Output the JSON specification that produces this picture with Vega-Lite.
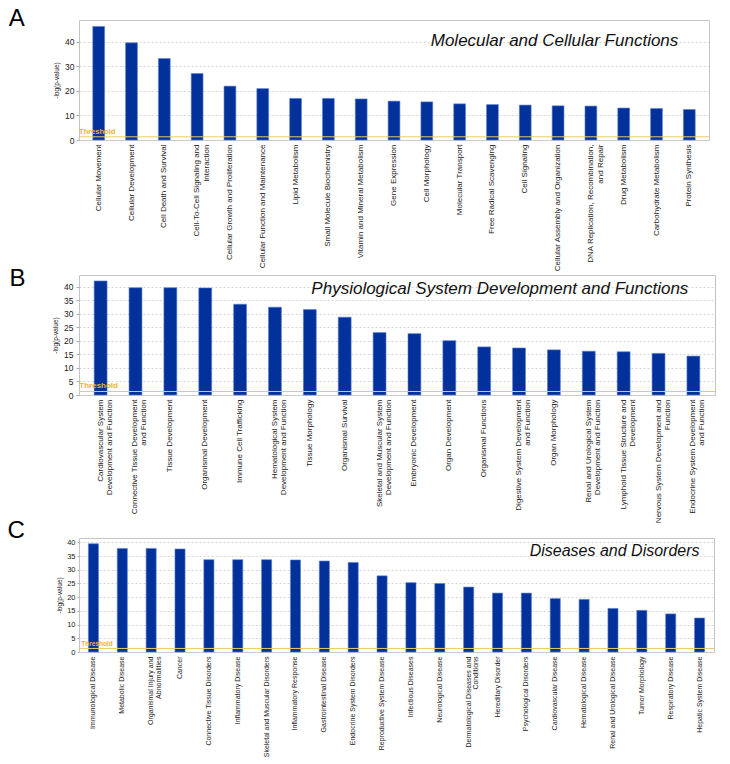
{
  "$schema": "https://vega.github.io/schema/vega-lite/v6.json",
  "padding": {"left": 7, "top": 6, "right": 0, "bottom": 0},
  "columns": 1,
  "align": "none",
  "spacing": -6,
  "config": {
    "font": "Liberation Sans",
    "view": {"stroke": "#c4c4c4", "strokeWidth": 1},
    "axis": {
      "labelFont": "Liberation Sans",
      "titleFont": "Liberation Sans",
      "labelColor": "#222222",
      "titleColor": "#222222",
      "titleFontWeight": "normal",
      "domain": false,
      "tickColor": "#aaaaaa",
      "gridColor": "#d4d4d4",
      "gridDash": [2, 2],
      "labelOverlap": false
    },
    "axisX": {"grid": false, "ticks": false, "labelAngle": -90, "title": null},
    "text": {"font": "Liberation Sans", "fontWeight": "normal"},
    "title": {"font": "Liberation Sans", "fontWeight": "normal", "color": "#000000", "fontSize": 24, "orient": "left", "anchor": "end", "frame": "group", "angle": 0, "align": "right", "baseline": "top"}
  },
  "concat": [
    {
      "width": 630,
      "height": 120,
      "title": {"text": "A", "offset": 12.7, "dy": -13},
      "layer": [
        {
          "data": {"values": [
            {"cat": "Cellular Movement", "val": 46.2},
            {"cat": "Cellular Development", "val": 39.5},
            {"cat": "Cell Death and Survival", "val": 33.1},
            {"cat": "Cell-To-Cell Signaling and|Interaction", "val": 27.0},
            {"cat": "Cellular Growth and Proliferation", "val": 21.9},
            {"cat": "Cellular Function and Maintenance", "val": 20.9},
            {"cat": "Lipid Metabolism", "val": 16.9},
            {"cat": "Small Molecule Biochemistry", "val": 16.9},
            {"cat": "Vitamin and Mineral Metabolism", "val": 16.7},
            {"cat": "Gene Expression", "val": 15.8},
            {"cat": "Cell Morphology", "val": 15.5},
            {"cat": "Molecular Transport", "val": 14.7},
            {"cat": "Free Radical Scavenging", "val": 14.4},
            {"cat": "Cell Signaling", "val": 14.2},
            {"cat": "Cellular Assembly and Organization", "val": 13.9},
            {"cat": "DNA Replication, Recombination,|and Repair", "val": 13.8},
            {"cat": "Drug Metabolism", "val": 13.0},
            {"cat": "Carbohydrate Metabolism", "val": 12.8},
            {"cat": "Protein Synthesis", "val": 12.4}
          ]},
          "mark": {"type": "bar", "color": "#02319c", "stroke": "#5b7fcc", "strokeWidth": 0.6, "width": {"band": 0.36}},
          "encoding": {
            "x": {"field": "cat", "type": "nominal", "sort": null,
                  "scale": {"paddingInner": 0, "paddingOuter": 0.1},
                  "axis": {"labelFontSize": 8, "labelLineHeight": 10, "labelPadding": 4, "labelExpr": "split(datum.label, '|')", "labelLimit": 200}},
            "y": {"field": "val", "type": "quantitative",
                  "scale": {"domain": [0, 48.8], "nice": false},
                  "axis": {"title": "-log(p-value)", "titleFontSize": 6.5, "titlePadding": 5, "values": [0, 10, 20, 30, 40], "labelFontSize": 8.5, "tickSize": 3, "labelPadding": 2, "grid": true}}
          }
        },
        {
          "data": {"values": [{"t": 1.3}]},
          "mark": {"type": "rule", "color": "#e6cc6a", "strokeWidth": 1},
          "encoding": {"y": {"field": "t", "type": "quantitative",
                  "axis": {"title": "-log(p-value)", "titleFontSize": 6.5, "titlePadding": 5, "values": [0, 10, 20, 30, 40], "labelFontSize": 8.5, "tickSize": 3, "labelPadding": 2, "grid": true}}}
        },
        {
          "data": {"values": [{"label": "Threshold", "t": 1.3}]},
          "mark": {"type": "text", "color": "#f0b030", "fontWeight": "bold", "fontSize": 7.5, "align": "center", "baseline": "bottom", "dx": -1.5, "dy": -1},
          "encoding": {"text": {"field": "label"}, "x": {"datum": "Cellular Movement"}, "y": {"field": "t", "type": "quantitative",
                  "axis": {"title": "-log(p-value)", "titleFontSize": 6.5, "titlePadding": 5, "values": [0, 10, 20, 30, 40], "labelFontSize": 8.5, "tickSize": 3, "labelPadding": 2, "grid": true}}}
        },
        {
          "data": {"values": [{"label": "Molecular and Cellular Functions", "t": 38.2}]},
          "mark": {"type": "text", "fontStyle": "italic", "fontSize": 17, "align": "right", "baseline": "alphabetic", "dx": -11, "color": "#111111"},
          "encoding": {"text": {"field": "label"}, "x": {"datum": "Protein Synthesis"}, "y": {"field": "t", "type": "quantitative",
                  "axis": {"title": "-log(p-value)", "titleFontSize": 6.5, "titlePadding": 5, "values": [0, 10, 20, 30, 40], "labelFontSize": 8.5, "tickSize": 3, "labelPadding": 2, "grid": true}}}
        }
      ]
    },
    {
      "width": 636,
      "height": 120,
      "title": {"text": "B", "offset": 11, "dy": -8},
      "layer": [
        {
          "data": {"values": [
            {"cat": "Cardiovascular System|Development and Function", "val": 42.2},
            {"cat": "Connective Tissue Development|and Function", "val": 39.7},
            {"cat": "Tissue Development", "val": 39.7},
            {"cat": "Organismal Development", "val": 39.6},
            {"cat": "Immune Cell Trafficking", "val": 33.6},
            {"cat": "Hematological System|Development and Function", "val": 32.5},
            {"cat": "Tissue Morphology", "val": 31.6},
            {"cat": "Organismal Survival", "val": 28.8},
            {"cat": "Skeletal and Muscular System|Development and Function", "val": 23.1},
            {"cat": "Embryonic Development", "val": 22.7},
            {"cat": "Organ Development", "val": 20.1},
            {"cat": "Organismal Functions", "val": 17.8},
            {"cat": "Digestive System Development|and Function", "val": 17.4},
            {"cat": "Organ Morphology", "val": 16.7},
            {"cat": "Renal and Urological System|Development and Function", "val": 16.2},
            {"cat": "Lymphoid Tissue Structure and|Development", "val": 16.0},
            {"cat": "Nervous System Development and|Function", "val": 15.4},
            {"cat": "Endocrine System Development|and Function", "val": 14.4}
          ]},
          "mark": {"type": "bar", "color": "#02319c", "stroke": "#5b7fcc", "strokeWidth": 0.6, "width": {"band": 0.37}},
          "encoding": {
            "x": {"field": "cat", "type": "nominal", "sort": null,
                  "scale": {"paddingInner": 0, "paddingOuter": 0.12},
                  "axis": {"labelFontSize": 8, "labelLineHeight": 9, "labelPadding": 4, "labelExpr": "split(datum.label, '|')", "labelLimit": 200}},
            "y": {"field": "val", "type": "quantitative",
                  "scale": {"domain": [0, 44.4], "nice": false},
                  "axis": {"title": "-log(p-value)", "titleFontSize": 6.5, "titlePadding": 5, "values": [0, 5, 10, 15, 20, 25, 30, 35, 40], "labelFontSize": 8.5, "tickSize": 3, "labelPadding": 3, "grid": true}}
          }
        },
        {
          "data": {"values": [{"t": 1.3}]},
          "mark": {"type": "rule", "color": "#e6cc6a", "strokeWidth": 1},
          "encoding": {"y": {"field": "t", "type": "quantitative",
                  "axis": {"title": "-log(p-value)", "titleFontSize": 6.5, "titlePadding": 5, "values": [0, 5, 10, 15, 20, 25, 30, 35, 40], "labelFontSize": 8.5, "tickSize": 3, "labelPadding": 3, "grid": true}}}
        },
        {
          "data": {"values": [{"label": "Threshold", "t": 1.3}]},
          "mark": {"type": "text", "color": "#f0b030", "fontWeight": "bold", "fontSize": 8, "align": "center", "baseline": "bottom", "dx": -2, "dy": -1},
          "encoding": {"text": {"field": "label"}, "x": {"datum": "Cardiovascular System|Development and Function"}, "y": {"field": "t", "type": "quantitative",
                  "axis": {"title": "-log(p-value)", "titleFontSize": 6.5, "titlePadding": 5, "values": [0, 5, 10, 15, 20, 25, 30, 35, 40], "labelFontSize": 8.5, "tickSize": 3, "labelPadding": 3, "grid": true}}}
        },
        {
          "data": {"values": [{"label": "Physiological System Development and Functions", "t": 37.4}]},
          "mark": {"type": "text", "fontStyle": "italic", "fontSize": 17, "align": "right", "baseline": "alphabetic", "dx": -5, "color": "#111111"},
          "encoding": {"text": {"field": "label"}, "x": {"datum": "Endocrine System Development|and Function"}, "y": {"field": "t", "type": "quantitative",
                  "axis": {"title": "-log(p-value)", "titleFontSize": 6.5, "titlePadding": 5, "values": [0, 5, 10, 15, 20, 25, 30, 35, 40], "labelFontSize": 8.5, "tickSize": 3, "labelPadding": 3, "grid": true}}}
        }
      ]
    },
    {
      "width": 635,
      "height": 114,
      "title": {"text": "C", "offset": 14.4, "dy": -19},
      "layer": [
        {
          "data": {"values": [
            {"cat": "Immunological Disease", "val": 39.5},
            {"cat": "Metabolic Disease", "val": 37.8},
            {"cat": "Organismal Injury and|Abnormalities", "val": 37.8},
            {"cat": "Cancer", "val": 37.6},
            {"cat": "Connective Tissue Disorders", "val": 33.7},
            {"cat": "Inflammatory Disease", "val": 33.7},
            {"cat": "Skeletal and Muscular Disorders", "val": 33.7},
            {"cat": "Inflammatory Response", "val": 33.6},
            {"cat": "Gastrointestinal Disease", "val": 33.2},
            {"cat": "Endocrine System Disorders", "val": 32.7},
            {"cat": "Reproductive System Disease", "val": 27.8},
            {"cat": "Infectious Diseases", "val": 25.3},
            {"cat": "Neurological Disease", "val": 25.0},
            {"cat": "Dermatological Diseases and|Conditions", "val": 23.7},
            {"cat": "Hereditary Disorder", "val": 21.5},
            {"cat": "Psychological Disorders", "val": 21.5},
            {"cat": "Cardiovascular Disease", "val": 19.5},
            {"cat": "Hematological Disease", "val": 19.2},
            {"cat": "Renal and Urological Disease", "val": 15.9},
            {"cat": "Tumor Morphology", "val": 15.2},
            {"cat": "Respiratory Disease", "val": 13.9},
            {"cat": "Hepatic System Disease", "val": 12.4}
          ]},
          "mark": {"type": "bar", "color": "#02319c", "stroke": "#5b7fcc", "strokeWidth": 0.6, "width": {"band": 0.35}},
          "encoding": {
            "x": {"field": "cat", "type": "nominal", "sort": null,
                  "scale": {"paddingInner": 0, "paddingOuter": 0},
                  "axis": {"labelFontSize": 7, "labelLineHeight": 7.5, "labelPadding": 4, "labelExpr": "split(datum.label, '|')", "labelLimit": 200}},
            "y": {"field": "val", "type": "quantitative",
                  "scale": {"domain": [0, 41.6], "nice": false},
                  "axis": {"title": "-log(p-value)", "titleFontSize": 6.5, "titlePadding": 4, "values": [0, 5, 10, 15, 20, 25, 30, 35, 40], "labelFontSize": 7.5, "tickSize": 2, "labelPadding": 2, "grid": true}}
          }
        },
        {
          "data": {"values": [{"t": 1.3}]},
          "mark": {"type": "rule", "color": "#e6cc6a", "strokeWidth": 1},
          "encoding": {"y": {"field": "t", "type": "quantitative",
                  "axis": {"title": "-log(p-value)", "titleFontSize": 6.5, "titlePadding": 4, "values": [0, 5, 10, 15, 20, 25, 30, 35, 40], "labelFontSize": 7.5, "tickSize": 2, "labelPadding": 2, "grid": true}}}
        },
        {
          "data": {"values": [{"label": "Threshold", "t": 1.3}]},
          "mark": {"type": "text", "color": "#f0b030", "fontWeight": "bold", "fontSize": 6.5, "align": "center", "baseline": "bottom", "dx": 3.5, "dy": -1},
          "encoding": {"text": {"field": "label"}, "x": {"datum": "Immunological Disease"}, "y": {"field": "t", "type": "quantitative",
                  "axis": {"title": "-log(p-value)", "titleFontSize": 6.5, "titlePadding": 4, "values": [0, 5, 10, 15, 20, 25, 30, 35, 40], "labelFontSize": 7.5, "tickSize": 2, "labelPadding": 2, "grid": true}}}
        },
        {
          "data": {"values": [{"label": "Diseases and Disorders", "t": 35.1}]},
          "mark": {"type": "text", "fontStyle": "italic", "fontSize": 16, "align": "right", "baseline": "alphabetic", "dx": 0, "color": "#111111"},
          "encoding": {"text": {"field": "label"}, "x": {"datum": "Hepatic System Disease"}, "y": {"field": "t", "type": "quantitative",
                  "axis": {"title": "-log(p-value)", "titleFontSize": 6.5, "titlePadding": 4, "values": [0, 5, 10, 15, 20, 25, 30, 35, 40], "labelFontSize": 7.5, "tickSize": 2, "labelPadding": 2, "grid": true}}}
        }
      ]
    }
  ]
}
